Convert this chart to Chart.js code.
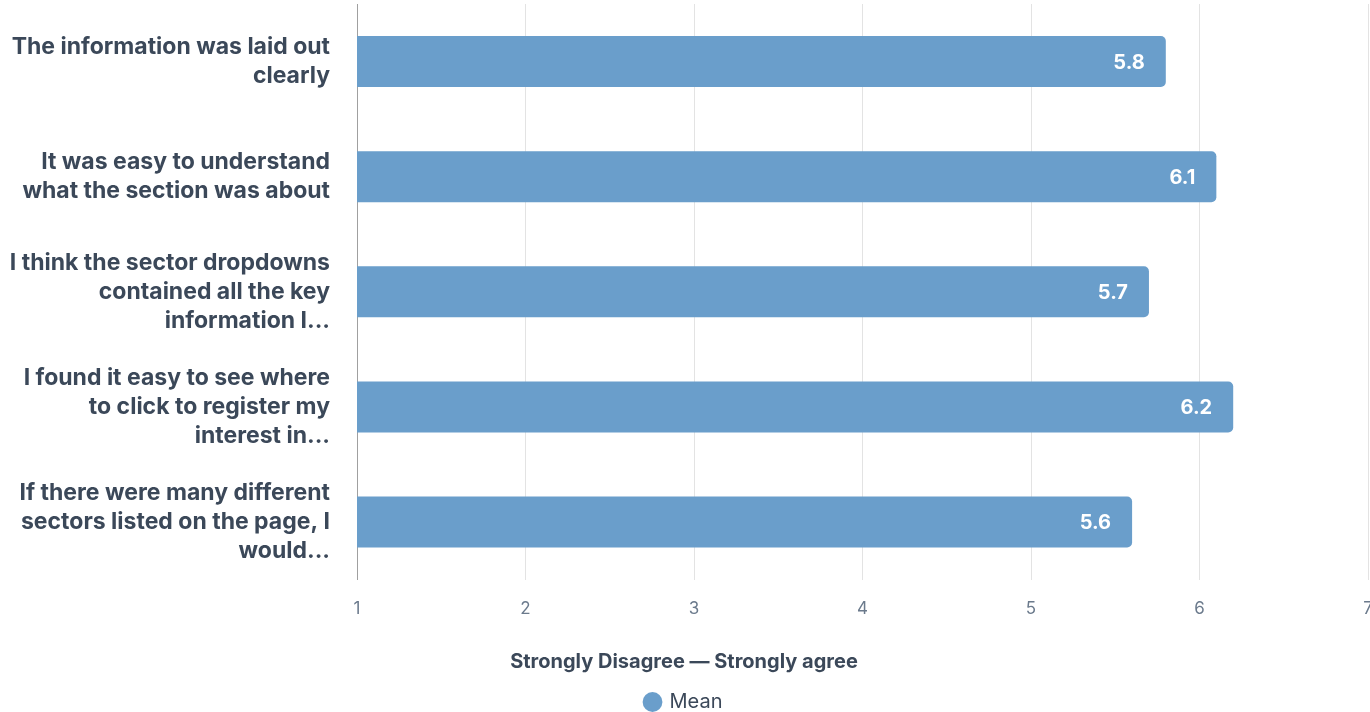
<!DOCTYPE html>
<html>
<head>
<meta charset="utf-8">
<script src="https://cdn.jsdelivr.net/npm/chart.js@4"></script>
<style>
  html, body { margin: 0; padding: 0; background: #fff; }
  #wrap { width: 1370px; height: 712px; }
</style>
</head>
<body>
<div id="wrap"><canvas id="meanChart"></canvas></div>
<script>
const statements = [
    ["The information was laid out", "clearly"],
    ["It was easy to understand", "what the section was about"],
    ["I think the sector dropdowns", "contained all the key", "information I..."],
    ["I found it easy to see where", "to click to register my", "interest in..."],
    ["If there were many different", "sectors listed on the page, I", "would..."]
];
const meanScores = [5.8, 6.1, 5.7, 6.2, 5.6];
const scaleTicks = [1, 2, 3, 4, 5, 6, 7];
const axisTitle = "Strongly Disagree \u2014 Strongly agree";

const textDark = "#3b4859";
const tickGray = "#6b7a8c";
const barBlue = "#6a9ecb";

// writes the value inside the right end of every bar
const valueLabels = {
    id: "valueLabels",
    afterDatasetsDraw(chart) {
        const ctx = chart.ctx;
        const meta = chart.getDatasetMeta(0);
        ctx.save();
        ctx.font = "bold 20px Inter";
        ctx.fillStyle = "#ffffff";
        ctx.textAlign = "right";
        ctx.textBaseline = "middle";
        meta.data.forEach((bar, i) => {
            ctx.fillText(meanScores[i].toFixed(1), bar.x - 21, bar.y + 1);
        });
        ctx.restore();
    }
};

const ctx = document.getElementById("meanChart").getContext("2d");
const meanChart = new Chart(ctx, {
    type: "bar",
    data: {
        labels: statements,
        datasets: [{
            label: "Mean",
            data: meanScores,
            backgroundColor: barBlue,
            borderRadius: { topRight: 5, bottomRight: 5 },
            borderSkipped: "start",
            categoryPercentage: 1,
            barPercentage: 0.443
        }]
    },
    options: {
        indexAxis: "y",
        responsive: true,
        maintainAspectRatio: false,
        animation: false,
        // the legend keeps 10px of empty space under itself, let it hang off the bottom edge
        layout: { padding: { top: 4, right: 2, left: 0, bottom: -10 } },
        plugins: {
            title: {
                display: true,
                position: "bottom",
                weight: 500,
                text: axisTitle,
                color: textDark,
                padding: { top: 12, bottom: 14 },
                font: { family: "Inter", size: 20, weight: "bold" }
            },
            legend: {
                position: "bottom",
                labels: {
                    usePointStyle: true,
                    pointStyle: "circle",
                    boxWidth: 14,
                    boxHeight: 14,
                    color: textDark,
                    padding: 4,
                    font: { family: "Inter", size: 20 }
                }
            },
            tooltip: { enabled: false }
        },
        scales: {
            x: {
                min: 1,
                max: 7,
                afterBuildTicks(axis) {
                    axis.ticks = scaleTicks.map(v => ({ value: v }));
                },
                afterFit(axis) {
                    axis.paddingRight = 0;
                    axis.paddingLeft = 0;
                },
                grid: { color: "#e3e3e3", lineWidth: 1, drawTicks: false },
                border: { display: false },
                ticks: {
                    color: tickGray,
                    padding: 19,
                    font: { family: "Inter", size: 17 }
                }
            },
            y: {
                grid: { display: false, drawTicks: false },
                border: { display: true, color: "#a0a0a0", width: 1 },
                afterFit(axis) {
                    axis.width = 357;
                    axis.paddingTop = 0;
                    axis.paddingBottom = 0;
                },
                ticks: {
                    color: textDark,
                    padding: 27,
                    font: { family: "Inter", size: 23, weight: "bold", lineHeight: 1.26 }
                }
            }
        }
    },
    plugins: [valueLabels]
});
</script>
</body>
</html>
